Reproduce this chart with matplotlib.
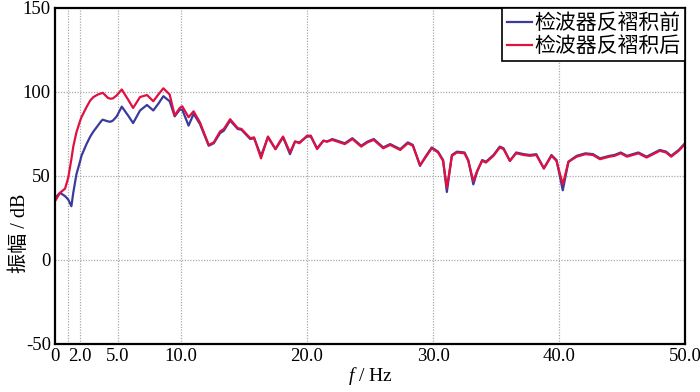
import matplotlib
matplotlib.use("Agg")
import matplotlib.pyplot as plt

plt.rcParams['font.family'] = ['Liberation Serif', 'Noto Sans CJK SC']
plt.rcParams['mathtext.fontset'] = 'custom'
plt.rcParams['mathtext.it'] = 'Liberation Serif:italic'
plt.rcParams['mathtext.rm'] = 'Liberation Serif'

freq = [0, 0.4, 0.8, 1.05, 1.3, 1.45, 1.7, 2.0, 2.1, 2.5, 2.8, 3.05, 3.4, 3.7, 3.8,
        4.2, 4.4, 4.6, 4.9, 5.3, 5.8, 6.2, 6.75, 7.3, 7.8, 8.2, 8.6, 9.1, 9.5, 9.9,
        10.1, 10.6, 11.0, 11.5, 12.2, 12.6, 13.1, 13.4, 13.9, 14.5, 14.8, 15.5, 15.8,
        16.35, 16.9, 17.5, 17.8, 18.1, 18.65, 19.05, 19.4, 20.0, 20.3, 20.8, 21.3,
        21.6, 22.0, 22.4, 23.0, 23.6, 24.3, 24.8, 25.3, 26.05, 26.6, 27.4, 28.0,
        28.4, 28.97, 29.4, 29.9, 30.4, 30.8, 31.1, 31.5, 31.9, 32.5, 32.8, 33.2,
        33.5, 33.9, 34.2, 34.8, 35.3, 35.6, 36.1, 36.6, 37.2, 37.7, 38.2, 38.8,
        39.4, 39.8, 40.3, 40.75, 41.4, 42.1, 42.7, 43.25, 44.0, 44.4, 44.9, 45.4,
        46.3, 46.95, 48.0, 48.5, 48.9, 49.5, 50.0]

before = [37, 40, 38, 36, 32, 40, 51, 59, 62, 69, 73.5, 76.5, 80, 83, 83.5,
          82.5, 82.3, 83, 85.5, 91.3, 86, 81.5, 89, 92.3, 89, 93, 97.5, 94.5, 85.5, 89.5,
          89.5, 80, 87, 81, 68, 69.5, 75.5, 77, 83, 78, 77.5, 72, 72.5,
          62, 73, 66, 69.5, 73, 63, 70.5, 70, 73.5, 73.5, 66.5, 71,
          70.5, 72, 71, 69.5, 72.5, 68, 70.5, 72, 67, 69, 66, 70,
          68.5, 56, 61.5, 67, 64.5, 59.5, 40.5, 62.5, 64.5, 64, 59.5, 45,
          52.5, 59.5, 58.5, 62.5, 67.5, 66.5, 59, 64, 63, 62.5, 63, 54.5,
          62.5, 59.5, 41.5, 58.5, 62, 63.5, 63, 60.5, 62, 62.5, 64, 62,
          64, 61.5, 65.5, 64.5, 62, 65.5, 69.5]

after = [35, 40, 42.5, 49, 60, 67.5, 76, 83, 85, 91, 95, 97, 98.5, 99.3, 99.5,
         96.5, 96, 96.2, 98, 101.5, 95.5, 90.5, 97, 98.2, 94.5, 98.5, 102.2, 98.5, 86, 90.5,
         91.5, 85, 88.5, 82, 68.5, 70, 76.5, 78, 83.8, 78.5, 78, 72.5, 73,
         60.5, 73.5, 66, 70, 73.5, 64, 70.5, 69.5, 74, 74, 66, 71,
         70.5, 71.5, 70.5, 69, 72, 67.5, 70, 71.5, 66.5, 68.5, 65.5, 69.5,
         68, 56.5, 61, 66.5, 64, 59, 43, 62, 64, 63.5, 59, 47,
         53, 59, 58, 62, 67, 66, 59, 63.5, 62.5, 62, 62.5, 54.5,
         62, 59, 45, 58.5, 61.5, 63, 62.5, 60, 61.5, 62, 63.5, 61.5,
         63.5, 61, 65, 64, 61.5, 65, 69]

labels = ['检波器反褶积前', '检波器反褶积后']
xticks = [0, 2, 5, 10, 20, 30, 40, 50]
xticklabels = ['0', '2.0', '5.0', '10.0', '20.0', '30.0', '40.0', '50.0']
xgrid = [1, 2, 5, 10, 20, 30, 40]
yticks = [-50, 0, 50, 100, 150]
yticklabels = ['-50', '0', '50', '100', '150']
ygrid = [0, 50, 100]

fig = plt.figure(figsize=(7, 3.92), dpi=100)
ax = fig.add_axes([55/700, 48/392, 630/700, 336/392])

for g in xgrid:
    ax.axvline(g, color='#aaaaaa', lw=0.9, ls=(0, (1, 1.2)), zorder=0)
for g in ygrid:
    ax.axhline(g, color='#aaaaaa', lw=0.9, ls=(0, (1, 1.2)), zorder=0)

ax.plot(freq, before, color='#3b3b9c', lw=1.6, label=labels[0])
ax.plot(freq, after, color='#e01040', lw=1.6, label=labels[1])

ax.set_xlim(0, 50)
ax.set_ylim(-50, 150)
ax.set_xticks(xticks)
ax.set_xticklabels(xticklabels)
ax.set_yticks(yticks)
ax.set_yticklabels(yticklabels)
ax.tick_params(length=0, labelsize=13.5, pad=3)
for s in ax.spines.values():
    s.set_linewidth(1.6)
    s.set_color('black')

ax.set_xlabel('$f$ / Hz', fontsize=14, labelpad=0)
ax.set_ylabel('振幅 / dB', fontsize=14.5)
ax.yaxis.set_label_coords(-0.04, 0.33)

leg = ax.legend(loc='upper right', bbox_to_anchor=(1.0, 1.0),
                frameon=True, fancybox=False, borderaxespad=0,
                handlelength=1.2, handletextpad=0.15, labelspacing=0.05,
                borderpad=0.2, prop={'family': ['Noto Sans CJK SC'], 'size': 15})
leg.get_frame().set_edgecolor('black')
leg.get_frame().set_linewidth(1.2)
leg.get_frame().set_alpha(1)

fig.savefig('out.png', dpi=100)
